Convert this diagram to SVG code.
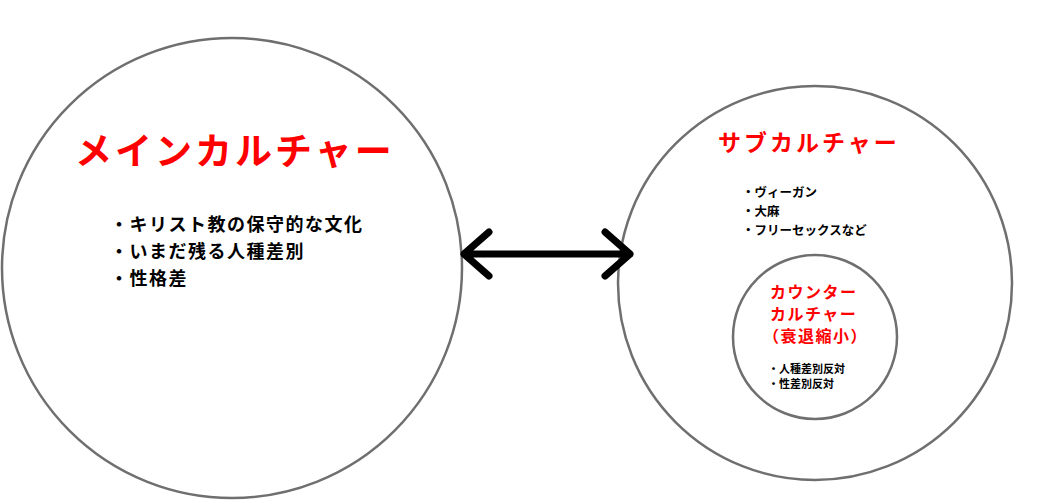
<svg xmlns="http://www.w3.org/2000/svg" width="1062" height="504" viewBox="0 0 1062 504">
<style>
.c{fill:#fff;stroke:#6f6f6f;stroke-width:2.5}
text{font-family:"Noto Sans CJK JP",sans-serif;font-weight:bold}
.r{fill:#ff0000}
.k{fill:#000}
</style>
<rect width="1062" height="504" fill="#fff"/>
<g id="main"><circle class="c" cx="232" cy="268" r="230"/>
<text class="r" x="75" y="165" font-size="37" letter-spacing="3">メインカルチャー</text>
<text class="k" font-size="18" letter-spacing="1.5"><tspan x="110" y="231">・キリスト教の保守的な文化</tspan><tspan x="110" y="258">・いまだ残る人種差別</tspan><tspan x="110" y="285">・性格差</tspan></text></g>
<g id="sub"><circle class="c" cx="815" cy="283" r="197"/>
<text class="r" x="718" y="151" font-size="23" letter-spacing="3">サブカルチャー</text>
<text class="k" font-size="12.5" font-weight="normal"><tspan x="742" y="197">・ヴィーガン</tspan><tspan x="742" y="216">・大麻</tspan><tspan x="742" y="235">・フリーセックスなど</tspan></text></g>
<g id="counter"><circle class="c" cx="815" cy="337" r="82"/>
<text class="r" font-size="16" letter-spacing="1.5"><tspan x="770" y="298">カウンター</tspan><tspan x="770" y="320">カルチャー</tspan><tspan x="763" y="342">（衰退縮小）</tspan></text>
<text class="k" font-size="11" font-weight="normal"><tspan x="768" y="373">・人種差別反対</tspan><tspan x="768" y="388">・性差別反対</tspan></text></g>
<g id="connectors" fill="none" stroke="#000" stroke-width="7" stroke-linecap="round" stroke-linejoin="round">
<path d="M464 254H630M489 232L464 254L489 276M605 232L630 254L605 276"/></g>
</svg>
